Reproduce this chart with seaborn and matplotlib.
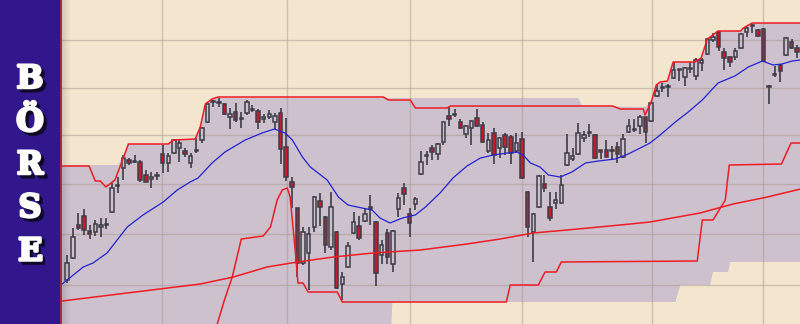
import numpy as np
import matplotlib
matplotlib.use("Agg")
import matplotlib.pyplot as plt
import matplotlib.patheffects as pe
from matplotlib.lines import Line2D
import seaborn as sns

sns.set_style("white")
plt.rcParams['font.family'] = ['DejaVu Serif', 'DejaVu Sans']

TOP = 324  # picture rows are converted to price levels as TOP - row

# ---- candle data (in picture rows) ----
open_px = [280,258,225,216,231,232,227,225,212,186,168,160,162,162,175,179,176,154,163,153,
           148,151,163,151,140,122,102,103,104,117,112,119,113,110,111,119,117,122,113,147,
           182,208,263,253,227,201,217,247,232,284,267,233,226,221,207,222,255,233,264,209,
           188,214,204,174,156,148,154,142,116,114.5,122,134,128,118,125,151,133,148,135,137,
           151,139,192,232,207,184,207,203,203,165,159,154,138,132.5,135,150,150,151,147,157,
           132,129.5,126,117,121,96,87.5,87,78,69.5,77,68.5,76,63,54,40,32,52,57,57,
           48,32,25.5,30,29,86.5,74.5,65,55,42,48]
high_px = [255,228,213,209,225,220,218,218,183,177,155,158,155,160,170,172,172,145,153,139,
           140,148,153,138,127,103,100,98,103,108,103,112,100,105,109,114,110,113,108,118,
           177,207.5,227,227,196,193,216,192,231,272,242,212,216,208,195,221,240,229,230,193,
           183,208,197,151,151,145,143,121.5,107,109,119,125,120,109,122,133,128,137,133,135,
           133,132,191,213,175,175,192,192,175,134,148,123,131,124,134,150,140,146,142,134,
           119,119,115,116.5,102,85,83,84,62,69,67,62,58,58,38,33,31,48,56,48,
           33,27,24,29,28,85,66,64,37,39,45]
low_px = [283,259,230,235,239,236,237,229,213,193,180,165,162.5,182,182,188,180,173,172,153.5,
          162,157,168,153,143,123,107,107,115,129,122,128,115,112,129,123,119,129,164,181,
          208,277,265,290,232,226,253,250,289,300,268,233.5,240,222,225,286,264,264,272,217,
          205,237,210,175,165,160,160,145,126,117,129,138,145,127,143,153,164,158,155,164,
          153,178.5,237,262,208,192,221,209,204,166,161,155,142,137,159,159,157,160,163,158,
          133,132,134,143,122,97,92,97,79,81,86,73,80,71,55,42,51,70,67,60,
          48.5,37,33,37,62,104,77,82,56,49,58]
close_px = [263,237,228,230,234,224,225,224,188,185,158,163,161.5,180,182,177,175,163,156,140,
            143,154,156,150,127.5,103.5,101,102,114,114,120,118,102,109,122,117,114,116,149,177,
            187,263,232,234,197,207,245,207,288,277,246,222,238,214,209,273,245,257,231,198,
            194,223,199,162,155,152,144,122,119,114,128,126,121,126,142,140,155,138,147,153,
            143,178,227,214,176,188,218,200,185,153,156,133,135,132,158,152,157,150.5,154,139,
            126,129,117,132,103,91,87,86,70,69,68,68,60,60,39,37,47,58,62,51,
            34,28,25,36,61,86,74,71,38,48,52]

# ---- indicator lines (day index, picture row) ----
mid_day = [-0.9,0,2.85,4.6,7.1,10.7,13.5,17.1,19.6,21.9,23.3,25.8,28.1,31.7,34.7,36.9,38.8,40.1,
           41.9,43.3,46.3,48.3,50.0,52.5,54.3,55.7,57.5,59.7,62.0,63.8,66.4,68.7,71.2,73.6,75.9,
           78.4,80.1,81.2,82.5,84.2,85.7,87.8,89.9,92.3,94.6,97.6,99.9,102.4,103.8,105.6,108.3,
           110.6,113.1,115.9,118.9,121.3,123.8,125.7,127.3,129.1,130.6]
mid_px = [284,280,267,263,253,227,215,202,190,182,178,163,152,140,133,129,133,140,157,167,180,
          197,205,208,210,218,223,218,215,207,193,178,166,158,155,153,152,155,163,167,175,177,
          172,163,161,159,154,147,143,135,122,112,100,83,76,67,61,65,64,61,60]

long_day = [-0.9,23.7,29.6,35.6,41.0,47.4,54.5,62.9,71.2,77.1,83.0,89.0,98.5,103.8,112.7,118.6,124.7,130.6]
long_px = [301,284,277,267,262,257,253,250,244,239,233,230,225,222,213,204,197,189]

upper_day = [-0.9,3.9,5.0,5.9,6.9,8.5,10.0,10.9,18.0,18.9,22.8,23.7,24.6,25.8,26.9,56.3,57.2,61.1,
             62.0,67.7,68.2,97.1,98.5,102.6,102.9,104.0,104.9,105.6,106.9,107.9,111.8,112.9,114.0,
             115.2,115.9,119.9,120.4,122.0,130.6]
upper_px = [166,166,181,181,187,180,158,144,144,140,139,127,104,99,97,97,100,100,108,108,106,106,
            109,109,115,102,85,82,81,62,62,58,39,34,31,31,28,23,23]

lower_day = [26.2,28.0,29.4,31.0,34.9,36.2,37.4,38.3,39.2,39.7,40.6,41.1,42.0,42.9,48.1,49.0,78.2,
             78.9,83.9,85.1,87.1,88.0,112.2,113.1,115.0,117.2,117.9,127.2,128.9,130.6]
lower_px = [334,300,277,239,236,227,200,190,188,197,250,283,283,292,292,302,302,285,285,272,272,
            262,261,220,220,200,165,164,143,143]

band_top_day = [-0.9,9.1,10.9,18.0,18.9,22.8,23.7,24.6,25.8,91.0,91.7,102.9,104.0,104.9,105.6,106.9,
                107.9,111.8,112.9,114.0,115.2,115.9,119.9,120.4,122.0,130.6]
band_top_px = [165,165,144,144,140,139,127,104,98,98,106,107,102,85,82,81,62,62,58,39,34,31,31,28,23,23]
band_bot_day = [-0.9,57.7,57.9,108.3,109.2,114.5,115.0,117.7,118.1,130.6]
band_bot_px = [330,330,302,302,285,285,272,272,262,262]

grid_days = [16.92, 39.18, 61.09, 81.03, 104.19, 123.95]
grid_rows = [40, 88, 135, 184, 234, 285]

letters = ["B", "Ö", "R", "S", "E"]
letter_base_rows = [88, 131, 174, 217, 260]

# ---- convert to price levels ----
def lvl(a):
    return TOP - np.asarray(a, dtype=float)

o, h, l, c = lvl(open_px), lvl(high_px), lvl(low_px), lvl(close_px)
days = np.arange(len(o))

PURPLE = "#32178c"
BEIGE = "#f4e5cf"
SHADE = "#cdc1cd"
GRID = "#a8988f"
WICK = "#3e3c48"
RED_BODY = "#c41e2c"
RED_LINE = "#ee1c24"
BLUE_LINE = "#2323d2"

fig = plt.figure(figsize=(8, 3.24), dpi=100)
fig.patch.set_facecolor(PURPLE)
ax = fig.add_axes([61/800, 0, 739/800, 1])
ax.set_facecolor(BEIGE)
for s in ax.spines.values():
    s.set_visible(False)

# band shading
bx = np.concatenate([band_top_day, band_bot_day[::-1]])
by = np.concatenate([lvl(band_top_px), lvl(band_bot_px)[::-1]])
ax.fill(bx, by, color=SHADE, zorder=1, lw=0)

# grid
for gd in grid_days:
    ax.axvline(gd, color=GRID, lw=1.0, alpha=0.5, zorder=2)
for gr in lvl(grid_rows):
    ax.axhline(gr, color=GRID, lw=1.0, alpha=0.5, zorder=2)

# left edge shading
grad = np.zeros((2, 60, 4))
grad[..., 3] = np.linspace(0.22, 0.0, 60)[None, :]
grad[..., :3] = 0.3
ax.imshow(grad, extent=[-1.1, 0.6, 0, TOP], aspect='auto', zorder=2.5, interpolation='bilinear')

# candles
body_lo = np.minimum(o, c)
body_hi = np.maximum(o, c)
ax.vlines(days, l, body_lo, color=WICK, lw=1.2, zorder=4)
ax.vlines(days, body_hi, h, color=WICK, lw=1.2, zorder=4)
down = c < o
ax.bar(days[down], (body_hi - body_lo)[down], bottom=body_lo[down], width=0.62,
       facecolor=RED_BODY, edgecolor=WICK, linewidth=1.1, zorder=4.2)
ax.bar(days[~down], np.maximum(body_hi - body_lo, 0.6)[~down], bottom=body_lo[~down], width=0.62,
       facecolor='none', edgecolor=WICK, linewidth=1.1, zorder=4.2)

# lines
sns.lineplot(x=long_day, y=lvl(long_px), ax=ax, color=RED_LINE, lw=1.1, sort=False,
             estimator=None, legend=False, zorder=5)
sns.lineplot(x=upper_day, y=lvl(upper_px), ax=ax, color=RED_LINE, lw=1.1, sort=False,
             estimator=None, legend=False, zorder=5)
sns.lineplot(x=lower_day, y=lvl(lower_px), ax=ax, color=RED_LINE, lw=1.1, sort=False,
             estimator=None, legend=False, zorder=5)
sns.lineplot(x=mid_day, y=lvl(mid_px), ax=ax, color=BLUE_LINE, lw=0.9, sort=False,
             estimator=None, legend=False, zorder=5)
ax.set_xlim(-1.1, 130.5)
ax.set_ylim(0, TOP)
ax.set_xticks([]); ax.set_yticks([])
ax.set_xlabel(""); ax.set_ylabel("")

# border line between panel and chart
fig.add_artist(Line2D([60.5/800, 60.5/800], [0, 1], color="#a8283c", lw=1.4,
                      transform=fig.transFigure))

# vertical title with drop shadow toward the lower right
effects = [pe.SimplePatchShadow(offset=(2.6, -2.6), shadow_rgbFace='#0c0820', alpha=0.7,
                                linewidth=1.6, foreground='#0c0820'),
           pe.SimplePatchShadow(offset=(1.6, -1.6), shadow_rgbFace='#0c0820', alpha=0.6,
                                linewidth=1.6, foreground='#0c0820'),
           pe.withStroke(linewidth=1.8, foreground='white')]
for ch, row in zip(letters, letter_base_rows):
    fig.text(30/800, 1 - row / 324, ch, ha='center', va='baseline', fontsize=23,
             fontweight='bold', color='white', path_effects=effects)

fig.savefig("out.png", dpi=100, facecolor=fig.get_facecolor())
